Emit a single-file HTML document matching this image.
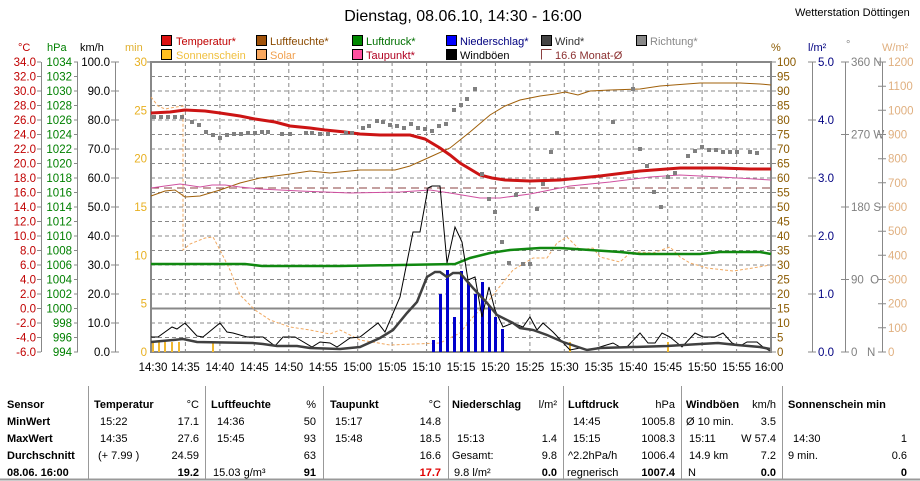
<!DOCTYPE html>
<html><head><meta charset="utf-8"><style>
body{margin:0;background:#fff;}
svg{display:block;font-family:"Liberation Sans",sans-serif;}
</style></head><body>
<svg width="920" height="481" viewBox="0 0 920 481" xmlns="http://www.w3.org/2000/svg">
<rect width="920" height="481" fill="#fff"/>
<text x="463" y="21" font-size="16" text-anchor="middle" fill="#000">Dienstag, 08.06.10, 14:30 - 16:00</text>
<text x="795" y="16" font-size="11" fill="#000">Wetterstation Döttingen</text>

<!-- legend -->
<g font-size="11">
<rect x="161.5" y="35.5" width="10" height="10" fill="#dd1111" stroke="#000"/><text x="176" y="45" fill="#c00000">Temperatur*</text>
<rect x="256.5" y="35.5" width="10" height="10" fill="#a0520a" stroke="#000"/><text x="270" y="45" fill="#8b4a00">Luftfeuchte*</text>
<rect x="352.5" y="35.5" width="10" height="10" fill="#008800" stroke="#000"/><text x="366" y="45" fill="#007000">Luftdruck*</text>
<rect x="446.5" y="35.5" width="10" height="10" fill="#0000ff" stroke="#000"/><text x="460" y="45" fill="#000080">Niederschlag*</text>
<rect x="541.5" y="35.5" width="10" height="10" fill="#444" stroke="#000"/><text x="555" y="45" fill="#333">Wind*</text>
<rect x="636.5" y="35.5" width="10" height="10" fill="#888" stroke="#000"/><text x="650" y="45" fill="#888">Richtung*</text>
<rect x="161.5" y="49.5" width="10" height="10" fill="#ffc020" stroke="#000"/><text x="176" y="59" fill="#f0c040">Sonnenschein</text>
<rect x="256.5" y="49.5" width="10" height="10" fill="#f8a860" stroke="#000"/><text x="270" y="59" fill="#f0a050">Solar</text>
<rect x="352.5" y="49.5" width="10" height="10" fill="#ff50a0" stroke="#000"/><text x="366" y="59" fill="#b00020">Taupunkt*</text>
<rect x="446.5" y="49.5" width="10" height="10" fill="#000" stroke="#000"/><text x="460" y="59" fill="#000">Windböen</text>
<path d="M541.5 59.5V49.5H551.5" fill="none" stroke="#8b4040"/><text x="555" y="59" fill="#8b3030">16.6 Monat-Ø</text>
</g>

<!-- axis unit labels -->
<g font-size="11">
<text x="18" y="51" fill="#c00000">°C</text>
<text x="47" y="51" fill="#008000">hPa</text>
<text x="80" y="51" fill="#000">km/h</text>
<text x="125" y="51" fill="#e0b030">min</text>
<text x="771" y="51" fill="#8b5a00">%</text>
<text x="808" y="51" fill="#000080">l/m²</text>
<text x="846" y="48" fill="#888">°</text>
<text x="882" y="51" fill="#e0b080">W/m²</text>
</g>

<!-- grid -->
<g stroke="#888" stroke-dasharray="4,3" stroke-width="1">
<path d="M151 76.5H771M151 91H771M151 105.5H771M151 120H771M151 134.5H771M151 149H771M151 163.5H771M151 178H771M151 192.5H771M151 207H771M151 221.5H771M151 236H771M151 250.5H771M151 265H771M151 279.5H771M151 294H771M151 323H771M151 337.5H771"/>
<path d="M185.4 62V352M219.9 62V352M254.3 62V352M288.8 62V352M323.2 62V352M357.7 62V352M392.1 62V352M426.6 62V352M461 62V352M495.4 62V352M529.9 62V352M564.3 62V352M598.8 62V352M633.2 62V352M667.7 62V352M702.1 62V352M736.6 62V352"/>
</g>
<path d="M151 308.5H771" stroke="#888" stroke-width="2"/>
<path d="M151 62H771V352H151Z" fill="none" stroke="#888" stroke-width="2"/>

<!-- left axes -->
<g font-size="11.5" text-anchor="end">
<g fill="#c00000">
<text x="36" y="66">34.0</text><text x="36" y="80.5">32.0</text><text x="36" y="95">30.0</text><text x="36" y="109.5">28.0</text><text x="36" y="124">26.0</text><text x="36" y="138.5">24.0</text><text x="36" y="153">22.0</text><text x="36" y="167.5">20.0</text><text x="36" y="182">18.0</text><text x="36" y="196.5">16.0</text><text x="36" y="211">14.0</text><text x="36" y="225.5">12.0</text><text x="36" y="240">10.0</text><text x="36" y="254.5">8.0</text><text x="36" y="269">6.0</text><text x="36" y="283.5">4.0</text><text x="36" y="298">2.0</text><text x="36" y="312.5">0.0</text><text x="36" y="327">-2.0</text><text x="36" y="341.5">-4.0</text><text x="36" y="356">-6.0</text>
</g>
<g fill="#008000">
<text x="72" y="66">1034</text><text x="72" y="80.5">1032</text><text x="72" y="95">1030</text><text x="72" y="109.5">1028</text><text x="72" y="124">1026</text><text x="72" y="138.5">1024</text><text x="72" y="153">1022</text><text x="72" y="167.5">1020</text><text x="72" y="182">1018</text><text x="72" y="196.5">1016</text><text x="72" y="211">1014</text><text x="72" y="225.5">1012</text><text x="72" y="240">1010</text><text x="72" y="254.5">1008</text><text x="72" y="269">1006</text><text x="72" y="283.5">1004</text><text x="72" y="298">1002</text><text x="72" y="312.5">1000</text><text x="72" y="327">998</text><text x="72" y="341.5">996</text><text x="72" y="356">994</text>
</g>
<g fill="#000">
<text x="110" y="66">100.0</text><text x="110" y="95">90.0</text><text x="110" y="124">80.0</text><text x="110" y="153">70.0</text><text x="110" y="182">60.0</text><text x="110" y="211">50.0</text><text x="110" y="240">40.0</text><text x="110" y="269">30.0</text><text x="110" y="298">20.0</text><text x="110" y="327">10.0</text><text x="110" y="356">0.0</text>
</g>
<g fill="#e8b020">
<text x="147" y="66">30</text><text x="147" y="114.3">25</text><text x="147" y="162.7">20</text><text x="147" y="211">15</text><text x="147" y="259.3">10</text><text x="147" y="307.7">5</text><text x="147" y="356">0</text>
</g>
</g>
<g stroke="#888" stroke-width="1">
<path d="M41.5 62V352M77.5 62V352M115.5 62V352"/>
<path d="M37 62H41M37 76.5H41M37 91H41M37 105.5H41M37 120H41M37 134.5H41M37 149H41M37 163.5H41M37 178H41M37 192.5H41M37 207H41M37 221.5H41M37 236H41M37 250.5H41M37 265H41M37 279.5H41M37 294H41M37 308.5H41M37 323H41M37 337.5H41M37 352H41"/>
<path d="M74 62H78M74 76.5H78M74 91H78M74 105.5H78M74 120H78M74 134.5H78M74 149H78M74 163.5H78M74 178H78M74 192.5H78M74 207H78M74 221.5H78M74 236H78M74 250.5H78M74 265H78M74 279.5H78M74 294H78M74 308.5H78M74 323H78M74 337.5H78M74 352H78"/>
<path d="M111 62H119M111 91H119M111 120H119M111 149H119M111 178H119M111 207H119M111 236H119M111 265H119M111 294H119M111 323H119M111 352H119"/>
<path d="M147 62H151"/>
</g>

<!-- right axes -->
<g font-size="11.5">
<g fill="#8b5a00">
<text x="777" y="66">100</text><text x="777" y="80.5">95</text><text x="777" y="95">90</text><text x="777" y="109.5">85</text><text x="777" y="124">80</text><text x="777" y="138.5">75</text><text x="777" y="153">70</text><text x="777" y="167.5">65</text><text x="777" y="182">60</text><text x="777" y="196.5">55</text><text x="777" y="211">50</text><text x="777" y="225.5">45</text><text x="777" y="240">40</text><text x="777" y="254.5">35</text><text x="777" y="269">30</text><text x="777" y="283.5">25</text><text x="777" y="298">20</text><text x="777" y="312.5">15</text><text x="777" y="327">10</text><text x="777" y="341.5">5</text><text x="777" y="356">0</text>
</g>
<g fill="#000080">
<text x="818" y="66">5.0</text><text x="818" y="124">4.0</text><text x="818" y="182">3.0</text><text x="818" y="240">2.0</text><text x="818" y="298">1.0</text><text x="818" y="356">0.0</text>
</g>
<g fill="#808080">
<text x="851" y="66">360 N</text><text x="851" y="138.5">270 W</text><text x="851" y="211">180 S</text><text x="851" y="283.5">90 &#160;O</text><text x="851" y="356">0 &#160;&#160;N</text>
</g>
<g fill="#e0b080">
<text x="888" y="66">1200</text><text x="888" y="90.2">1100</text><text x="888" y="114.3">1000</text><text x="888" y="138.5">900</text><text x="888" y="162.7">800</text><text x="888" y="186.8">700</text><text x="888" y="211">600</text><text x="888" y="235.2">500</text><text x="888" y="259.3">400</text><text x="888" y="283.5">300</text><text x="888" y="307.7">200</text><text x="888" y="331.8">100</text><text x="888" y="356">0</text>
</g>
</g>
<g stroke="#888" stroke-width="1">
<path d="M771 62H776M771 76.5H776M771 91H776M771 105.5H776M771 120H776M771 134.5H776M771 149H776M771 163.5H776M771 178H776M771 192.5H776M771 207H776M771 221.5H776M771 236H776M771 250.5H776M771 265H776M771 279.5H776M771 294H776M771 308.5H776M771 323H776M771 337.5H776M771 352H776"/>
<path d="M812.5 62V352M808 62H816M808 120H816M808 178H816M808 236H816M808 294H816M808 352H816"/>
<path d="M845.5 62V352M841 62H849M841 134.5H849M841 207H849M841 279.5H849M841 352H849"/>
<path d="M882.5 62V352M878 62H886M878 86.2H886M878 110.3H886M878 134.5H886M878 158.7H886M878 182.8H886M878 207H886M878 231.2H886M878 255.3H886M878 279.5H886M878 303.7H886M878 327.8H886M878 352H886"/>
</g>

<!-- x labels -->
<g font-size="11.5" text-anchor="middle" fill="#000">
<text x="153" y="371">14:30</text><text x="185.4" y="371">14:35</text><text x="219.9" y="371">14:40</text><text x="254.3" y="371">14:45</text><text x="288.8" y="371">14:50</text><text x="323.2" y="371">14:55</text><text x="357.7" y="371">15:00</text><text x="392.1" y="371">15:05</text><text x="426.6" y="371">15:10</text><text x="461" y="371">15:15</text><text x="495.4" y="371">15:20</text><text x="529.9" y="371">15:25</text><text x="564.3" y="371">15:30</text><text x="598.8" y="371">15:35</text><text x="633.2" y="371">15:40</text><text x="667.7" y="371">15:45</text><text x="702.1" y="371">15:50</text><text x="736.6" y="371">15:55</text><text x="769" y="371">16:00</text>
</g>

<!-- solar dashed -->
<polyline fill="none" stroke="#f0a860" stroke-width="1" stroke-dasharray="3,2" points="151,97 158,106 165,109 176,107 183,106 183,250 190,244 205,238 213,237 220,250 230,270 240,295 255,310 270,320 290,327 310,330 330,334 340,330 360,340 390,345 440,343 460,333 473,317 487,303 497,290 513,270 533,258 547,258 557,243 567,237 580,250 593,248 600,257 620,262 630,253 640,252 653,253 670,247 680,257 690,263 707,268 733,271 753,268 770,265"/>

<!-- sunshine bars -->
<g stroke="#f0b830" stroke-width="2">
<path d="M153 342V352M159 342V352M165 342V352M172 342V352M179 342V352M213 342V352M570 342V352M668 342V352"/>
</g>

<!-- precipitation bars -->
<g fill="#0000cc">
<rect x="432" y="340" width="3" height="12"/><rect x="439" y="294" width="3" height="58"/><rect x="446" y="270" width="3" height="82"/><rect x="453" y="317" width="3" height="35"/><rect x="460" y="271" width="3" height="81"/><rect x="467" y="282" width="3" height="70"/><rect x="474" y="294" width="3" height="58"/><rect x="481" y="282" width="3" height="70"/><rect x="488" y="306" width="3" height="46"/><rect x="494" y="317" width="3" height="35"/><rect x="501" y="329" width="3" height="23"/>
</g>

<!-- month avg dashed -->
<path d="M151 188H771" stroke="#8b4040" stroke-dasharray="8,5" stroke-width="1"/>

<!-- humidity -->
<polyline fill="none" stroke="#a0600a" stroke-width="1" points="151,196 165,191 175,190 185,197 200,196 220,190 240,183 260,178 290,174 310,171 330,173 360,170 395,170 410,166 430,157 450,148 470,132 490,115 505,106 520,100 540,96 555,94 565,92 578,95 590,91 610,90 640,89 660,86 700,83 740,83 760,84 771,85"/>
<!-- dewpoint -->
<polyline fill="none" stroke="#d050a0" stroke-width="1" points="151,188 165,186 180,184 200,187 212,185 225,185 240,187 260,189 300,191 350,193 400,192 430,190 450,193 480,198 500,198 530,194 570,186 610,182 650,177 680,175 720,177 771,180"/>
<!-- pressure -->
<polyline fill="none" stroke="#108810" stroke-width="2.5" points="151,264 245,264 262,266 340,266 400,265 455,264 470,258 490,253 510,250 540,248 560,248 590,250 620,252 640,254 700,254 720,252 760,252 771,254"/>
<!-- temperature -->
<polyline fill="none" stroke="#cc1414" stroke-width="3" points="151,113 170,112 185,110 205,111 220,113 240,116 255,119 275,122 290,126 310,128 325,130 345,132 360,134 380,135 395,135 410,135 425,139 440,148 450,155 460,163 470,169 480,175 492,178 505,180 530,181 560,180 600,176 640,171 680,168 720,168 750,169 771,169"/>

<!-- wind direction -->
<g fill="#808080">
<rect x="152" y="115" width="4" height="4"/><rect x="159" y="115" width="4" height="4"/><rect x="166" y="115" width="4" height="4"/><rect x="173" y="115" width="4" height="4"/><rect x="180" y="115" width="4" height="4"/><rect x="190" y="120" width="4" height="4"/><rect x="197" y="123" width="4" height="4"/><rect x="204" y="130" width="4" height="4"/><rect x="211" y="133" width="4" height="4"/><rect x="218" y="136" width="4" height="4"/><rect x="225" y="133" width="4" height="4"/><rect x="232" y="132" width="4" height="4"/><rect x="239" y="132" width="4" height="4"/><rect x="246" y="131" width="4" height="4"/><rect x="253" y="131" width="4" height="4"/><rect x="260" y="130" width="4" height="4"/><rect x="266" y="130" width="4" height="4"/><rect x="280" y="132" width="4" height="4"/><rect x="288" y="132" width="4" height="4"/><rect x="304" y="131" width="4" height="4"/><rect x="310" y="131" width="4" height="4"/><rect x="318" y="132" width="4" height="4"/><rect x="326" y="132" width="4" height="4"/><rect x="344" y="131" width="4" height="4"/><rect x="350" y="131" width="4" height="4"/><rect x="361" y="126" width="4" height="4"/><rect x="367" y="124" width="4" height="4"/><rect x="375" y="119" width="4" height="4"/><rect x="381" y="120" width="4" height="4"/><rect x="388" y="123" width="4" height="4"/><rect x="395" y="124" width="4" height="4"/><rect x="402" y="126" width="4" height="4"/><rect x="409" y="122" width="4" height="4"/><rect x="416" y="126" width="4" height="4"/><rect x="423" y="127" width="4" height="4"/><rect x="430" y="129" width="4" height="4"/><rect x="437" y="124" width="4" height="4"/><rect x="444" y="122" width="4" height="4"/><rect x="452" y="108" width="4" height="4"/><rect x="459" y="103" width="4" height="4"/><rect x="465" y="97" width="4" height="4"/><rect x="473" y="87" width="4" height="4"/><rect x="480" y="172" width="4" height="4"/><rect x="487" y="197" width="4" height="4"/><rect x="493" y="210" width="4" height="4"/><rect x="500" y="240" width="4" height="4"/><rect x="507" y="261" width="4" height="4"/><rect x="514" y="193" width="4" height="4"/><rect x="521" y="262" width="4" height="4"/><rect x="528" y="262" width="4" height="4"/><rect x="535" y="207" width="4" height="4"/><rect x="541" y="182" width="4" height="4"/><rect x="549" y="150" width="4" height="4"/><rect x="555" y="131" width="4" height="4"/><rect x="611" y="120" width="4" height="4"/><rect x="631" y="87" width="4" height="4"/><rect x="638" y="147" width="4" height="4"/><rect x="645" y="164" width="4" height="4"/><rect x="652" y="190" width="4" height="4"/><rect x="659" y="205" width="4" height="4"/><rect x="666" y="175" width="4" height="4"/><rect x="673" y="171" width="4" height="4"/><rect x="686" y="154" width="4" height="4"/><rect x="693" y="149" width="4" height="4"/><rect x="700" y="145" width="4" height="4"/><rect x="707" y="148" width="4" height="4"/><rect x="714" y="148" width="4" height="4"/><rect x="721" y="150" width="4" height="4"/><rect x="728" y="150" width="4" height="4"/><rect x="735" y="150" width="4" height="4"/><rect x="748" y="150" width="4" height="4"/><rect x="755" y="151" width="4" height="4"/>
</g>

<!-- wind gusts -->
<polyline fill="none" stroke="#000" stroke-width="1" points="151,337 158,337 172,327 177,329 185,323 197,336 203,337 220,323 227,332 233,333 247,337 263,337 275,346 283,337 295,337 312,347 320,342 330,343 337,347 340,345 350,338 360,337 378,323 385,332 400,297 413,232 420,232 428,188 432,186 440,186 447,263 455,227 462,242 468,280 475,277 482,317 489,287 495,310 503,327 513,323 523,327 530,317 537,330 543,323 553,332 570,350 580,348 590,350 600,347 613,343 620,347 627,347 640,333 648,343 655,343 662,333 670,337 682,347 695,333 703,337 715,337 723,333 732,343 740,346 747,342 757,342 763,347 770,351"/>
<!-- wind avg -->
<polyline fill="none" stroke="#404040" stroke-width="2.5" points="151,342 173,340 183,339 197,342 253,343 263,344 277,346 297,346 310,348 340,349 360,347 380,338 393,330 407,313 417,302 427,277 435,272 440,272 447,277 453,273 460,273 473,288 487,303 497,315 513,323 520,328 533,330 547,335 563,342 587,350 600,348 633,347 667,346 700,344 718,343 737,345 760,347 770,349"/>

<!-- table -->
<g stroke="#999" stroke-width="1">
<path d="M88.5 386V479M205.5 386V479M323.5 386V479M448.5 386V479M563.5 386V479M681.5 386V479M782.5 386V479"/>
<path d="M0 479.5H920" stroke-width="2"/>
</g>
<g font-size="11" fill="#000">
<g font-weight="bold">
<text x="7" y="408">Sensor</text><text x="7" y="425">MinWert</text><text x="7" y="442">MaxWert</text><text x="7" y="459">Durchschnitt</text><text x="7" y="476">08.06. 16:00</text>
<text x="94" y="408">Temperatur</text><text x="211" y="408">Luftfeuchte</text><text x="330" y="408">Taupunkt</text><text x="452" y="408">Niederschlag</text><text x="568" y="408">Luftdruck</text><text x="686" y="408">Windböen</text><text x="788" y="408">Sonnenschein min</text>
</g>
<g text-anchor="end">
<text x="199" y="408">°C</text><text x="316" y="408">%</text><text x="441" y="408">°C</text><text x="557" y="408">l/m²</text><text x="675" y="408">hPa</text><text x="776" y="408">km/h</text>
<text x="199" y="425">17.1</text><text x="316" y="425">50</text><text x="441" y="425">14.8</text><text x="675" y="425">1005.8</text><text x="776" y="425">3.5</text>
<text x="199" y="442">27.6</text><text x="316" y="442">93</text><text x="441" y="442">18.5</text><text x="557" y="442">1.4</text><text x="675" y="442">1008.3</text><text x="776" y="442">W 57.4</text><text x="907" y="442">1</text>
<text x="199" y="459">24.59</text><text x="316" y="459">63</text><text x="441" y="459">16.6</text><text x="557" y="459">9.8</text><text x="675" y="459">1006.4</text><text x="776" y="459">7.2</text><text x="907" y="459">0.6</text>
<g font-weight="bold"><text x="199" y="476">19.2</text><text x="316" y="476">91</text><text x="441" y="476" fill="#e00000">17.7</text><text x="557" y="476">0.0</text><text x="675" y="476">1007.4</text><text x="776" y="476">0.0</text><text x="907" y="476">0</text></g>
</g>
<text x="100" y="425">15:22</text><text x="217" y="425">14:36</text><text x="335" y="425">15:17</text><text x="573" y="425">14:45</text><text x="686" y="425">Ø 10 min.</text>
<text x="100" y="442">14:35</text><text x="217" y="442">15:45</text><text x="335" y="442">15:48</text><text x="457" y="442">15:13</text><text x="573" y="442">15:15</text><text x="689" y="442">15:11</text><text x="793" y="442">14:30</text>
<text x="98" y="459">(+ 7.99 )</text><text x="452" y="459">Gesamt:</text><text x="568" y="459">^2.2hPa/h</text><text x="689" y="459">14.9 km</text><text x="788" y="459">9 min.</text>
<text x="213" y="476">15.03 g/m³</text><text x="454" y="476">9.8 l/m²</text><text x="567" y="476">regnerisch</text><text x="688" y="476">N</text>
</g>
</svg>
</body></html>
